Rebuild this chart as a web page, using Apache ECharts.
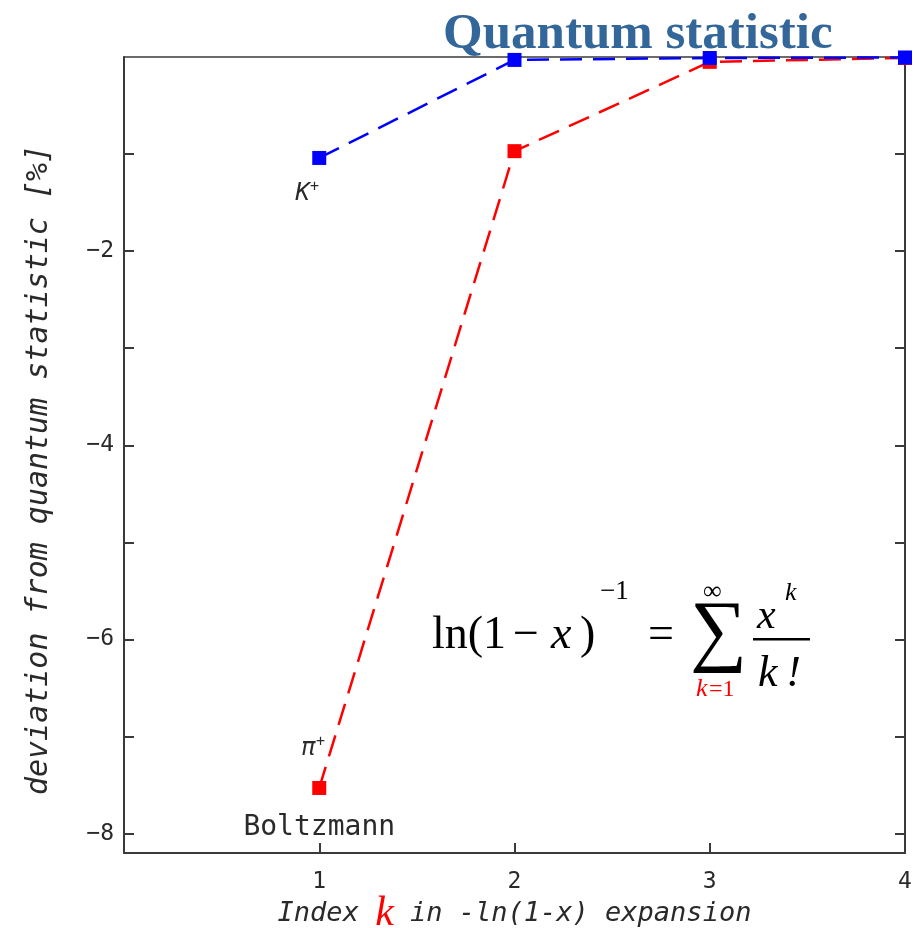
<!DOCTYPE html>
<html>
<head>
<meta charset="utf-8">
<script src="https://cdn.jsdelivr.net/npm/echarts@6/dist/echarts.min.js"></script>
<style>
  html, body { margin: 0; padding: 0; background: #fff; }
  #chart { width: 915px; height: 928px; }
</style>
</head>
<body>
<div id="chart"></div>
<script>
// Index k of the -ln(1-x) expansion
const kIndex = [1, 2, 3, 4];
// Deviation from the quantum statistic [%] when truncating at k
const kaonDev = [-1.04, -0.03, -0.01, -0.005];
const pionDev = [-7.53, -0.97, -0.05, -0.01];
// Axis ticks and labels
const yTicks = [-8, -7, -6, -5, -4, -3, -2, -1];
const yLabels = [-8, -6, -4, -2];
const xTicks = [1, 2, 3, 4];

const mono = '"DejaVu Sans Mono", monospace';
const serif = '"Liberation Serif", "Times New Roman", serif';
const axisGray = '#3a3a3a';
const textGray = '#2a2a2a';

const chart = echarts.init(document.getElementById('chart'));

function pairs(vals) { return kIndex.map((k, i) => [k, vals[i]]); }

const particleRich = {
  p: { fontFamily: mono, fontStyle: 'italic', fontSize: 24, color: textGray },
  s: { fontFamily: mono, fontSize: 15, color: textGray, verticalAlign: 'top', padding: [0, 0, 12, 0] }
};

const kaonData = pairs(kaonDev);
kaonData[0] = {
  value: kaonData[0],
  label: { show: true, position: 'bottom', offset: [-12, 10], formatter: '{p|K}{s|+}', rich: particleRich }
};

const pionData = pairs(pionDev);
pionData[0] = {
  value: pionData[0],
  label: { show: true, position: 'top', offset: [-6, -14], formatter: '{p|\u03c0}{s|+}', rich: particleRich }
};

const option = {
  backgroundColor: '#fff',
  animation: false,
  title: {
    text: 'Quantum statistic',
    left: 438, top: 4,
    textStyle: { fontFamily: serif, fontWeight: 'bold', fontSize: 51, color: '#336699' }
  },
  grid: { left: 124, right: 10, top: 57, bottom: 75, outerBoundsMode: 'none', containLabel: false },
  xAxis: [{
    type: 'value', min: 0, max: 4,
    name: '{t|Index }{k|k}{t| in -ln(1-x) expansion}',
    nameLocation: 'middle', nameGap: 40, nameMoveOverlap: false,
    nameTextStyle: {
      rich: {
        t: { fontFamily: mono, fontStyle: 'italic', fontSize: 27, color: textGray },
        k: { fontFamily: serif, fontStyle: 'italic', fontSize: 42, color: '#ff0000' }
      }
    },
    axisLine: { onZero: false, lineStyle: { color: axisGray, width: 2 } },
    axisTick: { inside: true, length: 10, customValues: xTicks, lineStyle: { color: axisGray, width: 2 } },
    axisLabel: { customValues: xTicks, fontFamily: mono, fontSize: 23, color: textGray, margin: 18 },
    splitLine: { show: false }
  }, {
    type: 'value', min: 0, max: 4, position: 'top',
    axisLine: { onZero: false, lineStyle: { color: axisGray, width: 1.5 } },
    axisTick: { show: false }, axisLabel: { show: false }, splitLine: { show: false }
  }],
  yAxis: [{
    type: 'value', min: -8.2, max: 0,
    name: 'deviation from quantum statistic [%]',
    nameLocation: 'middle', nameGap: 70, nameRotate: 90, nameMoveOverlap: false,
    nameTextStyle: { fontFamily: mono, fontStyle: 'italic', fontSize: 30, color: textGray, padding: [0, 30, 0, 0] },
    axisLine: { onZero: false, lineStyle: { color: axisGray, width: 2 } },
    axisTick: { inside: true, length: 10, customValues: yTicks, lineStyle: { color: axisGray, width: 2 } },
    axisLabel: { customValues: yLabels, fontFamily: mono, fontSize: 23, color: textGray, margin: 10,
      formatter: v => String(v).replace('-', '\u2212') },
    splitLine: { show: false }
  }, {
    type: 'value', min: -8.2, max: 0, position: 'right',
    axisLine: { onZero: false, lineStyle: { color: axisGray, width: 2 } },
    axisTick: { inside: true, length: 10, customValues: yTicks, lineStyle: { color: axisGray, width: 2 } },
    axisLabel: { show: false }, splitLine: { show: false }
  }],
  series: [{
    name: 'pi+', type: 'line', data: pionData, clip: false,
    symbol: 'rect', symbolSize: 14,
    itemStyle: { color: '#ff0000' },
    lineStyle: { color: '#ff0000', width: 2.5, type: [22, 11] },
    markPoint: {
      symbol: 'circle', symbolSize: 1, itemStyle: { color: 'rgba(0,0,0,0)' },
      data: [{ coord: [kIndex[0], pionDev[0]], label: {
        show: true, formatter: 'Boltzmann', offset: [0, 40],
        fontFamily: mono, fontSize: 28, color: textGray } }]
    },
    z: 2
  }, {
    name: 'K+', type: 'line', data: kaonData, clip: false,
    symbol: 'rect', symbolSize: 14,
    itemStyle: { color: '#0000ff' },
    lineStyle: { color: '#0000ff', width: 2.5, type: [22, 11] },
    z: 3
  }],
  graphic: [
    { type: 'text', left: 432, top: 613, style: { text: 'ln(1', font: '46px ' + serif, fill: '#000' } },
    { type: 'text', left: 513, top: 613, style: { text: '\u2212', font: '46px ' + serif, fill: '#000' } },
    { type: 'text', left: 551, top: 613, style: { text: 'x', font: 'italic 46px ' + serif, fill: '#000' } },
    { type: 'text', left: 580, top: 613, style: { text: ')', font: '46px ' + serif, fill: '#000' } },
    { type: 'text', left: 600, top: 578, style: { text: '\u22121', font: '27px ' + serif, fill: '#000' } },
    { type: 'text', left: 648, top: 613, style: { text: '=', font: '46px ' + serif, fill: '#000' } },
    { type: 'text', left: 690, top: 595, style: { text: '\u2211', font: '80px ' + serif, fill: '#000' } },
    { type: 'text', left: 703, top: 579, style: { text: '\u221e', font: '26px ' + serif, fill: '#000' } },
    { type: 'text', left: 696, top: 676, style: { text: 'k', font: 'italic 26px ' + serif, fill: '#ff0000' } },
    { type: 'text', left: 709, top: 678, style: { text: '=1', font: '24px ' + serif, fill: '#ff0000' } },
    { type: 'text', left: 757, top: 596, style: { text: 'x', font: 'italic 42px ' + serif, fill: '#000' } },
    { type: 'text', left: 785, top: 580, style: { text: 'k', font: 'italic 26px ' + serif, fill: '#000' } },
    { type: 'rect', shape: { x: 753, y: 638, width: 57, height: 2.5 }, style: { fill: '#000' } },
    { type: 'text', left: 758, top: 652, style: { text: 'k\u2009!', font: 'italic 44px ' + serif, fill: '#000' } }
  ]
};

chart.setOption(option);
</script>
</body>
</html>
